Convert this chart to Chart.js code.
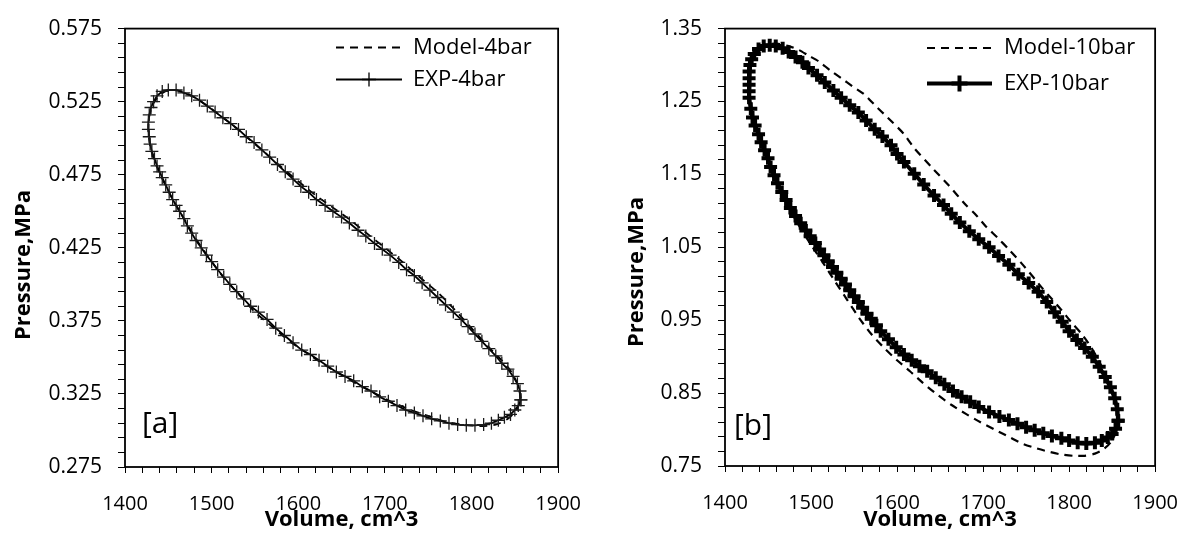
<!DOCTYPE html>
<html><head><meta charset="utf-8">
<script src="https://cdn.jsdelivr.net/npm/chart.js@4.4.1/dist/chart.umd.min.js"></script>
<style>
html,body{margin:0;padding:0;background:#fff;}
#wrap{position:relative;width:1197px;height:533px;overflow:hidden;background:#fff;}
.panel{position:absolute;top:0;height:533px;}
canvas{display:block;}
</style></head><body>
<div id="wrap">
<div class="panel" style="left:0;width:600px"><canvas id="cA" width="600" height="533"></canvas></div>
<div class="panel" style="left:600px;width:597px"><canvas id="cB" width="597" height="533"></canvas></div>
</div>
<script>
// ---------- Panel [a] : 4 bar ----------
const expA_V = [1857,1856,1853,1848,1842,1835,1828,1820,1812,1804,1796,1788,1779,1770,1761,1752,1743,1734,1725,1716,1706,1697,1688,1678,1669,1659,1650,1640,1631,1621,1612,1603,1594,1585,1576,1567,1558,1549,1540,1531,1522,1513,1504,1495,1486,1477,1468,1459,1450,1443,1437,1433,1430,1428,1427,1427,1428,1429,
 1431,1434,1437,1440,1443,1447,1451,1455,1459,1463,1468,1472,1477,1482,1488,1494,1500,1507,1514,1521,1529,1537,1545,1554,1564,1574,1584,1594,1604,1614,1624,1634,1644,1654,1664,1674,1684,1694,1704,1714,1724,1734,1744,1754,1764,1774,1784,1794,1804,1814,1823,1831,1838,1845,1850,1854,1857];
const expA_P = [0.321,0.327,0.332,0.337,0.342,0.346,0.351,0.356,0.361,0.366,0.371,0.376,0.381,0.386,0.391,0.396,0.401,0.406,0.410,0.415,0.420,0.424,0.428,0.433,0.437,0.442,0.446,0.450,0.454,0.458,0.463,0.467,0.472,0.477,0.482,0.487,0.492,0.497,0.501,0.506,0.510,0.514,0.518,0.522,0.526,0.529,0.531,0.533,0.533,0.532,0.529,0.525,0.521,0.516,0.511,0.506,0.501,0.496,
 0.491,0.486,0.481,0.477,0.473,0.468,0.463,0.458,0.454,0.450,0.445,0.440,0.435,0.430,0.425,0.420,0.4155,0.410,0.405,0.400,0.395,0.390,0.385,0.381,0.376,0.370,0.365,0.360,0.355,0.352,0.348,0.344,0.340,0.337,0.334,0.330,0.327,0.323,0.320,0.317,0.314,0.312,0.310,0.308,0.3065,0.305,0.304,0.3035,0.3035,0.304,0.305,0.307,0.309,0.311,0.314,0.317,0.321];
const modelA_V = [1857,1853,1845,1835,1820,1800,1780,1760,1740,1720,1700,1680,1660,1640,1620,1600,1580,1560,1540,1520,1500,1480,1465,1452,1441,1433,1428,1427,1429,1433,1440,1449,1459,1470,1482,1496,1512,1530,1550,1570,1590,1610,1630,1650,1670,1690,1710,1730,1750,1770,1790,1810,1828,1842,1852,1857];
const modelA_P = [0.322,0.332,0.341,0.348,0.357,0.370,0.383,0.395,0.405,0.4155,0.425,0.4345,0.444,0.4525,0.461,0.4705,0.4805,0.491,0.501,0.511,0.520,0.528,0.532,0.533,0.530,0.524,0.515,0.505,0.495,0.486,0.476,0.465,0.454,0.443,0.431,0.419,0.406,0.394,0.381,0.371,0.361,0.353,0.345,0.338,0.331,0.325,0.319,0.314,0.310,0.306,0.304,0.303,0.304,0.308,0.314,0.322];
const yTicksA = [0.275,0.325,0.375,0.425,0.475,0.525,0.575];

// ---------- Panel [b] : 10 bar ----------
const expB_V = [1857,1856,1853,1848,1842,1835,1827,1818,1809,1800,1792,1783,1774,1764,1753,1741,1730,1718,1707,1695,1684,1673,1663,1654,1643,1631,1620,1608,1600,1593,1583,1574,1564,1555,1545,1535,1526,1516,1507,1497,1490,1482,1474,1467,1459,1452,1445,1439,1434,1431,1429,1428,1428,1428,1428,1428,
 1430,1432,1435,1439,1442,1446,1450,1453,1457,1461,1466,1471,1476,1482,1488,1494,1499,1505,1510,1515,1520,1525,1530,1535,1540,1545,1550,1555,1560,1565,1570,1576,1581,1590,1599,1608,1617,1626,1635,1645,1655,1665,1675,1685,1695,1707,1719,1730,1740,1750,1760,1770,1780,1791,1800,1810,1820,1830,1838,1845,1850,1854,1857];
const expB_P = [0.812,0.828,0.843,0.858,0.872,0.886,0.900,0.912,0.923,0.935,0.948,0.961,0.975,0.989,1.001,1.013,1.026,1.038,1.050,1.061,1.072,1.084,1.096,1.108,1.121,1.136,1.151,1.167,1.178,1.190,1.202,1.212,1.224,1.235,1.245,1.255,1.265,1.276,1.286,1.296,1.304,1.311,1.318,1.323,1.326,1.327,1.326,1.322,1.315,1.308,1.300,1.291,1.282,1.273,1.264,1.255,
 1.240,1.228,1.217,1.205,1.194,1.183,1.172,1.160,1.149,1.138,1.126,1.115,1.104,1.093,1.083,1.073,1.065,1.056,1.047,1.039,1.031,1.023,1.015,1.007,0.999,0.991,0.983,0.975,0.967,0.959,0.952,0.943,0.935,0.924,0.913,0.903,0.895,0.887,0.880,0.871,0.862,0.853,0.845,0.838,0.831,0.824,0.818,0.813,0.808,0.803,0.799,0.795,0.791,0.788,0.785,0.782,0.781,0.782,0.785,0.789,0.794,0.801,0.812];
const modelB_V = [1857,1853,1846,1836,1825,1814,1802,1791,1780,1768,1757,1744,1730,1717,1703,1692,1680,1660,1640,1620,1608,1589,1575,1562,1548,1535,1522,1509,1497,1486,1474,1462,1452,1443,1436,1431,1428,1427,1428,1430,1434,1439,1445,1452,1460,1469,1479,1490,1502,1515,1528,1542,1556,1570,1585,1600,1615,1630,1646,1663,1680,1697,1715,1730,1745,1760,1775,1790,1805,1818,1830,1840,1848,1854,1857];
const modelB_P = [0.812,0.840,0.866,0.891,0.914,0.932,0.948,0.964,0.979,0.995,1.011,1.029,1.047,1.063,1.079,1.094,1.108,1.135,1.160,1.186,1.2054,1.228,1.244,1.2596,1.271,1.282,1.293,1.305,1.313,1.3206,1.326,1.329,1.329,1.326,1.318,1.307,1.293,1.278,1.262,1.245,1.226,1.206,1.185,1.163,1.140,1.117,1.094,1.072,1.050,1.027,1.003,0.978,0.953,0.931,0.912,0.895,0.880,0.864,0.8486,0.834,0.8215,0.810,0.799,0.790,0.781,0.775,0.770,0.766,0.764,0.764,0.767,0.773,0.782,0.795,0.812];
const yTicksB = [0.75,0.85,0.95,1.05,1.15,1.25,1.35];

const xTickLabels = [1400,1500,1600,1700,1800,1900];
const seriesLabels = {A:['Model-4bar','EXP-4bar'], B:['Model-10bar','EXP-10bar']};
const axisTitles = {x:'Volume, cm^3', y:'Pressure,MPa'};
const panelTags = ['[a]','[b]'];

// ---------- helpers ----------
const FAM = '"Open Sans", "Noto Sans", sans-serif';
const pts = (V,P) => V.map((v,i)=>({x:v, y:P[i]}));

const decorPlugin = {
  id: 'decor',
  afterDatasetsDraw(chart, args, o) {
    const ctx = chart.ctx, ca = chart.chartArea;
    ctx.save();
    ctx.setLineDash([]);
    ctx.strokeStyle = '#000';
    ctx.lineWidth = o.frameWidth;
    ctx.strokeRect(ca.left, ca.top, ca.right - ca.left, ca.bottom - ca.top);
    // y axis title (text comes from the scale options)
    const yt = chart.options.scales.y.title;
    ctx.save();
    ctx.translate(o.yTitleX, o.yTitleY);
    ctx.rotate(-Math.PI/2);
    ctx.font = 'bold 22px ' + FAM;
    ctx.fillStyle = '#000'; ctx.textAlign = 'center'; ctx.textBaseline = 'middle';
    ctx.fillText(yt.text, 0, 0);
    ctx.restore();
    // legend
    o.legendOrder.forEach((di, k) => {
      const ds = chart.data.datasets[di];
      const y = o.legendRows[k];
      ctx.save();
      ctx.strokeStyle = ds.borderColor;
      ctx.lineWidth = ds.borderWidth;
      ctx.setLineDash(ds.borderDash || []);
      ctx.beginPath(); ctx.moveTo(o.legendX1, y); ctx.lineTo(o.legendX2, y); ctx.stroke();
      if (ds.pointStyle === 'cross' && ds.pointRadius > 0) {
        const mx = (o.legendX1 + o.legendX2)/2, r = o.legendCross;
        ctx.setLineDash([]);
        ctx.lineWidth = ds.pointBorderWidth;
        ctx.beginPath();
        ctx.moveTo(mx, y - r); ctx.lineTo(mx, y + r);
        ctx.moveTo(mx - r, y); ctx.lineTo(mx + r, y);
        ctx.stroke();
      }
      ctx.fillStyle = '#000';
      ctx.font = '22px ' + FAM;
      ctx.textAlign = 'left'; ctx.textBaseline = 'middle';
      ctx.fillText(ds.label, o.legendTextX, y);
      ctx.restore();
    });
    // panel tag
    ctx.fillStyle = '#000';
    ctx.font = '30px ' + FAM;
    ctx.textAlign = 'left'; ctx.textBaseline = 'middle';
    ctx.fillText(o.tag, o.tagX, o.tagY);
    ctx.restore();
  }
};

function makeChart(id, cfg) {
  const majors = cfg.yMajors;
  const yMin = majors[0], yMax = majors[majors.length-1];
  const nMinor = Math.round((yMax - yMin) / cfg.yMinorStep);
  return new Chart(document.getElementById(id), {
    type: 'scatter',
    data: {
      datasets: [
        { label: cfg.labels[0], data: pts(cfg.modelV, cfg.modelP), showLine: true,
          borderColor: '#000', borderWidth: cfg.modelWidth, borderDash: [8,6],
          pointRadius: 0, pointHoverRadius: 0, tension: 0.25, order: 2, fill: false },
        { label: cfg.labels[1], data: pts(cfg.expV, cfg.expP), showLine: true,
          borderColor: '#000', backgroundColor: '#000', borderWidth: cfg.expWidth,
          pointStyle: 'cross', pointRadius: cfg.crossR, pointHoverRadius: cfg.crossR,
          pointBorderColor: cfg.crossColor, pointBorderWidth: cfg.crossW, tension: 0, order: 1, fill: false }
      ]
    },
    options: {
      responsive: false, animation: false, devicePixelRatio: 1, events: [],
      layout: { padding: { top: cfg.padTop, right: cfg.padRight, left: 0, bottom: 0 } },
      plugins: {
        legend: { display: false }, tooltip: { enabled: false },
        decor: cfg.decor
      },
      scales: {
        x: {
          type: 'linear', min: 1400, max: 1900,
          border: { display: false },
          grid: { drawOnChartArea: false, drawTicks: true, tickLength: 6, color: '#000', lineWidth: 1 },
          ticks: { stepSize: 20, autoSkip: false, maxRotation: 0, padding: 19, color: '#000',
                   font: { family: FAM, size: 20 },
                   callback: v => xTickLabels.includes(Math.round(v)) ? String(Math.round(v)) : '' },
          title: { display: true, text: axisTitles.x, color: '#000', padding: { top: 0, bottom: 0 },
                   font: { family: FAM, size: 22, weight: 'bold' } },
          afterFit: s => { s.height = cfg.xHeight; }
        },
        y: {
          type: 'linear', min: yMin, max: yMax,
          border: { display: false },
          grid: { drawOnChartArea: false, drawTicks: true, tickLength: 7, color: '#000', lineWidth: 1 },
          afterBuildTicks: s => {
            const t = [];
            for (let i = 0; i <= nMinor; i++) t.push({ value: +(yMin + i*cfg.yMinorStep).toFixed(4) });
            s.ticks = t;
          },
          ticks: { autoSkip: false, padding: 16, color: '#000', font: { family: FAM, size: 21 },
                   callback: v => majors.some(m => Math.abs(m - v) < 1e-6) ? v.toFixed(cfg.dec) : '' },
          title: { display: false, text: axisTitles.y },
          afterFit: s => { s.width = 125; }
        }
      }
    },
    plugins: [decorPlugin]
  });
}

makeChart('cA', {
  labels: seriesLabels.A, modelV: modelA_V, modelP: modelA_P, expV: expA_V, expP: expA_P,
  yMajors: yTicksA, yMinorStep: 0.01, dec: 3,
  modelWidth: 1.8, expWidth: 1.8, crossR: 6.5, crossW: 1.3, crossColor: '#1a1a1a',
  padTop: 19, padRight: 35, xHeight: 66,
  decor: { frameWidth: 1.8, yTitleX: 24, yTitleY: 265,
           legendOrder: [0,1], legendRows: [47.5, 79.5], legendX1: 336, legendX2: 402, legendTextX: 413, legendCross: 7,
           tag: panelTags[0], tagX: 142, tagY: 424 }
});
makeChart('cB', {
  labels: seriesLabels.B, modelV: modelB_V, modelP: modelB_P, expV: expB_V, expP: expB_P,
  yMajors: yTicksB, yMinorStep: 0.02, dec: 2,
  modelWidth: 2.2, expWidth: 4, crossR: 6.5, crossW: 4, crossColor: '#000',
  padTop: 23, padRight: 35, xHeight: 67,
  decor: { frameWidth: 1.8, yTitleX: 37, yTitleY: 272,
           legendOrder: [0,1], legendRows: [48, 83.5], legendX1: 327, legendX2: 392, legendTextX: 404, legendCross: 8,
           tag: panelTags[1], tagX: 134, tagY: 426 }
});
</script>
</body></html>
